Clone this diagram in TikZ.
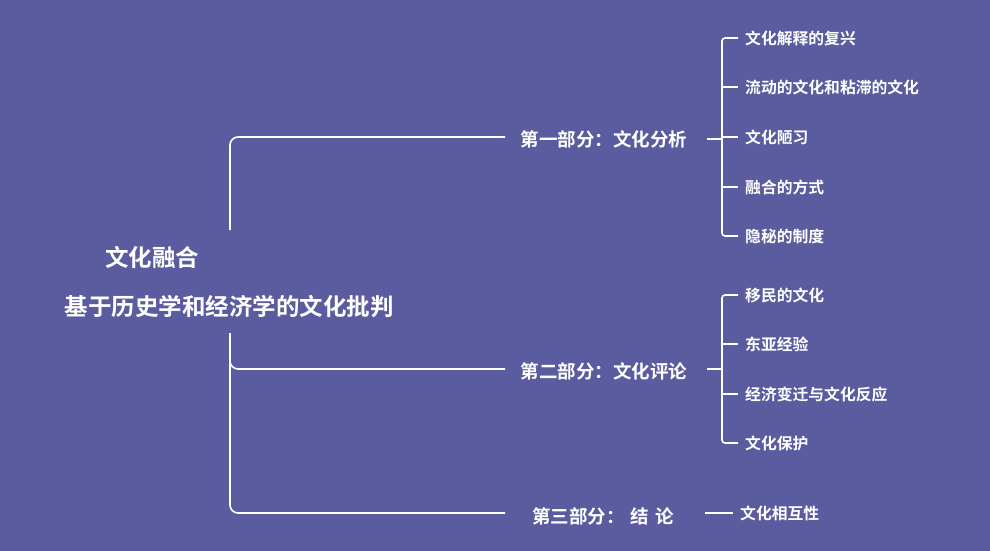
\documentclass[tikz,border=0pt]{standalone}
\usepackage{fontspec}
\newfontfamily\cjk{Noto Sans CJK SC Bold}
\definecolor{bg}{HTML}{5B5B9F}
\begin{document}
\begin{tikzpicture}[x=1pt,y=-1pt,
  ln/.style={draw=white,line width=1.6pt},
  rootlbl/.style={text=white,font=\cjk\fontsize{23.5}{26}\selectfont},
  partlbl/.style={text=white,font=\cjk\fontsize{18.5}{22}\selectfont},
  leaf/.style={text=white,font=\cjk\fontsize{15.8}{18}\selectfont,anchor=west,inner sep=0pt}]
\fill[bg] (0,0) rectangle (990,551);
\useasboundingbox (0,0) rectangle (990,551);
\node[rootlbl] (r1) at (152,257) {文化融合};
\node[rootlbl] (r2) at (229,307) {基于历史学和经济学的文化批判};
\coordinate (rt) at (230,230);
\coordinate (rb) at (230,333);
\node[partlbl] (p1) at (604,139) {第一部分：文化分析};
\node[partlbl] (p2) at (604,371) {第二部分：文化评论};
\node[partlbl] (p3) at (603,516) {第三部分：\hspace{6pt}结\hspace{6pt}论};
\coordinate (p1w) at (505,137);
\coordinate (p2w) at (505,369);
\coordinate (p3w) at (505,513);
\draw[ln,rounded corners=8pt] (rt) |- (p1w);
\draw[ln,rounded corners=8pt] (rb) |- (p2w);
\draw[ln,rounded corners=8pt] (rb) |- (p3w);
% group 1
\foreach \t/\y [count=\i] in {文化解释的复兴/38,流动的文化和粘滞的文化/87,文化陋习/137,融合的方式/187,隐秘的制度/236}{
  \node[leaf] (a\i) at (745,\y) {\t};}
\draw[ln,rounded corners=3pt] (a1.west)++(-7,0) -| (722,137) |- ([xshift=-7pt]a5.west);
\foreach \i in {2,3,4}{\draw[ln] (722,0|-a\i.west) -- ([xshift=-7pt]a\i.west);}
\draw[ln] (707,139) -- (722,139);
% group 2
\foreach \t/\y [count=\i] in {移民的文化/295,东亚经验/344,经济变迁与文化反应/394,文化保护/443}{
  \node[leaf] (b\i) at (745,\y) {\t};}
\draw[ln,rounded corners=3pt] (b1.west)++(-7,0) -| (722,369) |- ([xshift=-7pt]b4.west);
\foreach \i in {2,3}{\draw[ln] (722,0|-b\i.west) -- ([xshift=-7pt]b\i.west);}
\draw[ln] (707,369) -- (722,369);
% group 3
\node[leaf] (c1) at (740,513) {文化相互性};
\draw[ln] (705,513) -- ([xshift=-7pt]c1.west);
\end{tikzpicture}
\end{document}
